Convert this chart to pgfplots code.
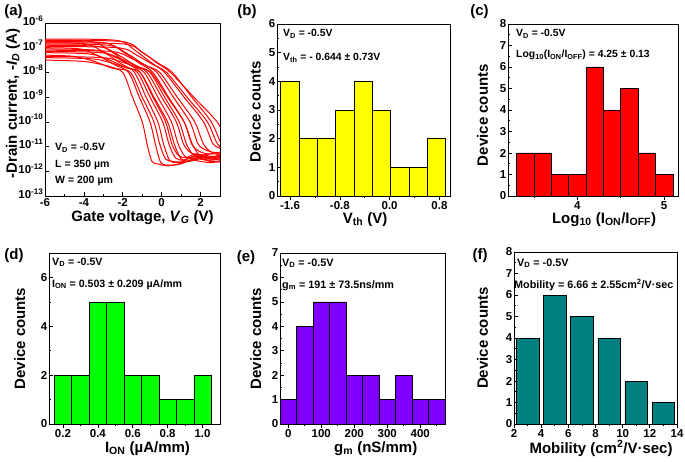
\documentclass[border=0pt]{standalone}
\usepackage{pgfplots}
\pgfplotsset{compat=1.18}
\usepackage{fontspec}
\setmainfont{Liberation Sans}
\definecolor{hyel}{HTML}{FFFF00}
\definecolor{hred}{HTML}{FF0000}
\definecolor{hgrn}{HTML}{00FF00}
\definecolor{hpur}{HTML}{7F00FF}
\definecolor{htea}{HTML}{008080}
\newcommand{\fs}[1]{\fontsize{#1}{#1}\selectfont\bfseries}
\pgfplotsset{
 base/.style={
  scale only axis, anchor=south west,
  axis line style={line width=0.8pt},
  tick align=inside, tick pos=left,
  major tick length=4pt, minor tick length=2.2pt,
  every tick/.append style={line width=0.7pt, black},
  tick label style={font=\fs{11.5}, inner sep=1.5pt},
  /pgf/number format/assume math mode=true,
  label style={font=\fs{15}, inner sep=0pt},
  xlabel style={anchor=north},
  ylabel style={anchor=base},
 },
 hist/.style={base, ymin=0, ylabel={Device counts}, ybar, bar width=#1,
   every axis plot/.append style={draw=black, line width=0.6pt}},
 tr/.style={color=red, mark=none, line width=1.0pt, smooth, tension=0.5},
}
\begin{document}
\begin{tikzpicture}
\useasboundingbox (0pt,0pt) rectangle (685pt,461pt);
% ---------------- (a)
\begin{axis}[base, at={(45pt,265pt)}, width=175pt, height=173pt,
  xmin=-6, xmax=3, ymin=-13, ymax=-6,
  xtick={-6,-4,-2,0,2}, minor xtick={-5,-3,-1,1,3},
  ytick={-13,-12,-11,-10,-9,-8,-7,-6},
  yticklabels={10\textsuperscript{-13},10\textsuperscript{-12},10\textsuperscript{-11},10\textsuperscript{-10},10\textsuperscript{-9},10\textsuperscript{-8},10\textsuperscript{-7},10\textsuperscript{-6}},
  xticklabel style={inner sep=2.5pt},
  yticklabel style={yshift=2.5pt},
  xlabel={Gate voltage, \textit{V}\textsubscript{\textit{G}} (V)},
  ylabel={-Drain current, -\textit{I}\textsubscript{\textit{D}} (A)},
  xlabel style={at={(axis description cs:0.557,-0.084)}},
  ylabel style={at={(axis description cs:-0.16,0.535)}},
]
\addplot[tr] coordinates {(-6,-7.30) (-4.5,-7.35) (-3.5,-7.545) (-2.7,-7.79) (-2.0,-8.0) (-1.5,-9.0) (-1.0,-10.0) (-0.75,-10.9) (-0.5,-11.6) (-0.2,-11.7) (0.3,-11.78) (0.9,-11.7) (1.5,-11.55) (2.0,-11.6) (2.5,-11.65) (3.0,-11.6)};
\addplot[tr] coordinates {(-6,-7.0) (-4.2,-7.05) (-3.2,-7.35) (-2.4,-7.70) (-1.7,-8.0) (-1.15,-9.0) (-0.6,-10.0) (-0.325,-10.9) (-0.05,-11.65) (0.28,-11.75) (0.9,-11.72) (1.5,-11.55) (2.0,-11.5) (2.5,-11.6) (3.0,-11.62)};
\addplot[tr] coordinates {(-6,-7.5) (-4.1,-7.55) (-3.1,-7.675) (-2.3,-7.85) (-1.6,-8.0) (-1.0,-9.0) (-0.4,-10.0) (-0.1,-10.9) (0.2,-11.5) (0.56,-11.6) (1.0,-11.62) (1.5,-11.45) (2.0,-11.4) (2.5,-11.5) (3.0,-11.55)};
\addplot[tr] coordinates {(-6,-6.8) (-3.9,-6.85) (-2.9,-7.22) (-2.1,-7.64) (-1.4,-8.0) (-0.8,-9.0) (-0.2,-10.0) (0.1,-10.9) (0.4,-11.55) (0.76,-11.65) (1.3,-11.6) (1.8,-11.45) (2.4,-11.55) (3.0,-11.5)};
\addplot[tr] coordinates {(-6,-7.2) (-3.75,-7.25) (-2.75,-7.48) (-1.95,-7.76) (-1.25,-8.0) (-0.6,-9.0) (0.05,-10.0) (0.375,-10.9) (0.7,-11.45) (1.09,-11.55) (1.6,-11.4) (2.0,-11.35) (2.5,-11.45) (3.0,-11.4)};
\addplot[tr] coordinates {(-6,-6.7) (-3.6,-6.75) (-2.6,-7.155) (-1.8,-7.61) (-1.1,-8.0) (-0.45,-9.0) (0.2,-10.0) (0.525,-10.9) (0.85,-11.35) (1.24,-11.45) (1.7,-11.3) (2.2,-11.35) (2.6,-11.4) (3.0,-11.35)};
\addplot[tr] coordinates {(-6,-7.4) (-3.6,-7.45) (-2.6,-7.61) (-1.8,-7.82) (-1.1,-8.0) (-0.4,-9.0) (0.3,-10.0) (0.65,-10.9) (1.0,-11.5) (1.42,-11.6) (1.9,-11.5) (2.4,-11.55) (3.0,-11.5)};
\addplot[tr] coordinates {(-6,-7.05) (-3.4,-7.1) (-2.4,-7.38) (-1.6,-7.715) (-0.9,-8.0) (-0.2,-9.0) (0.5,-10.0) (0.85,-10.9) (1.2,-11.4) (1.62,-11.5) (2.1,-11.4) (2.6,-11.45) (3.0,-11.4)};
\addplot[tr] coordinates {(-6,-6.9) (-3.25,-6.95) (-2.25,-7.285) (-1.45,-7.67) (-0.75,-8.0) (0.0,-9.0) (0.75,-10.0) (1.125,-10.9) (1.5,-11.25) (1.95,-11.35) (2.5,-11.3) (3.0,-11.25)};
\addplot[tr] coordinates {(-6,-7.15) (-3.1,-7.2) (-2.1,-7.45) (-1.3,-7.745) (-0.6,-8.0) (0.15,-9.0) (0.9,-10.0) (1.275,-10.9) (1.65,-11.35) (2.1,-11.45) (2.6,-11.4) (3.0,-11.45)};
\addplot[tr] coordinates {(-6,-6.75) (-2.95,-6.8) (-1.95,-7.19) (-1.15,-7.625) (-0.45,-8.0) (0.35,-9.0) (1.15,-10.0) (1.55,-10.9) (1.95,-11.2) (2.43,-11.3) (3.0,-11.25)};
\addplot[tr] coordinates {(-6,-7.35) (-3.05,-7.4) (-2.05,-7.58) (-1.25,-7.805) (-0.55,-8.0) (0.3,-9.0) (1.15,-10.0) (1.575,-10.9) (2.0,-11.4) (2.51,-11.5) (3.0,-11.45)};
\addplot[tr] coordinates {(-6,-6.85) (-2.75,-6.9) (-1.75,-7.25) (-0.95,-7.655) (-0.25,-8.0) (0.6,-9.0) (1.45,-10.0) (1.875,-10.9) (2.3,-11.15) (2.81,-11.25) (3.0,-11.22)};
\addplot[tr] coordinates {(-6,-7.1) (-2.6,-7.15) (-1.6,-7.415) (-0.8,-7.73) (-0.1,-8.0) (0.8,-9.0) (1.7,-10.0) (2.15,-10.9) (2.6,-11.25) (3.14,-11.35)};
\addplot[tr] coordinates {(-6,-6.65) (-2.35,-6.7) (-1.35,-7.1225) (-0.55,-7.595) (0.15,-8.0) (1.15,-9.0) (2.15,-10.0) (2.65,-10.9) (3.15,-11.1)};
\addplot[tr] coordinates {(-6,-6.95) (-2.25,-7.0) (-1.25,-7.3175) (-0.45,-7.685) (0.25,-8.0) (1.3,-9.0) (2.35,-10.0) (2.875,-10.9) (3.4,-11.2)};
\addplot[tr] coordinates {(-6,-6.7) (-2.05,-6.75) (-1.05,-7.155) (-0.25,-7.61) (0.45,-8.0) (1.65,-9.0) (2.85,-10.0) (3.45,-10.9)};
\addplot[tr] coordinates {(-6,-6.8) (-1.95,-6.85) (-0.95,-7.22) (-0.15,-7.64) (0.55,-8.0) (1.55,-9.0) (2.55,-10.0) (3.05,-10.9)};
\end{axis}
% ---------------- (b)
\begin{axis}[hist=0.2944, at={(277pt,265pt)}, width=173pt, height=172pt,
  xmin=-1.81, xmax=0.97, ymax=6,
  xtick={-1.6,-0.8,0,0.8}, minor xtick={-1.2,-0.4,0.4},
  xticklabel style={/pgf/number format/.cd, fixed, fixed zerofill, precision=1},
  ytick={0,1,2,3,4,5,6}, minor ytick={0.5,1.5,2.5,3.5,4.5,5.5},
  xlabel={V\textsubscript{th} (V)},
  xlabel style={at={(axis description cs:0.509,-0.093)}},
  ylabel style={at={(axis description cs:-0.095,0.49)}},
]
\addplot[fill=hyel] coordinates {(-1.603,4) (-1.308,2) (-1.014,2) (-0.719,3) (-0.425,4) (-0.130,3) (0.164,1) (0.458,1) (0.753,2)};
\end{axis}
% ---------------- (c)
\begin{axis}[hist=0.2, at={(508pt,265pt)}, width=170pt, height=172pt,
  xmin=3.2, xmax=5.16, ymax=8,
  xtick={4,5}, minor xtick={3.5,4.5},
  ytick={0,1,2,3,4,5,6,7,8}, minor ytick={0.5,1.5,2.5,3.5,4.5,5.5,6.5,7.5},
  xlabel={Log\textsubscript{10} (I\textsubscript{ON}/I\textsubscript{OFF})},
  xlabel style={at={(axis description cs:0.565,-0.093)}},
  ylabel style={at={(axis description cs:-0.118,0.47)}},
]
\addplot[fill=hred] coordinates {(3.4,2) (3.6,2) (3.8,1) (4.0,1) (4.2,6) (4.4,4) (4.6,5) (4.8,2) (5.0,1)};
\end{axis}
% ---------------- (d)
\begin{axis}[hist=0.1, at={(49pt,37pt)}, width=171pt, height=171pt,
  xmin=0.12, xmax=1.1, ymax=7,
  xtick={0.2,0.4,0.6,0.8,1.0}, minor xtick={0.3,0.5,0.7,0.9},
  xticklabel style={/pgf/number format/.cd, fixed, fixed zerofill, precision=1},
  ytick={0,2,4,6}, minor ytick={1,3,5},
  xlabel={I\textsubscript{ON} (µA/mm)},
  xlabel style={at={(axis description cs:0.576,-0.1)}},
  ylabel style={at={(axis description cs:-0.14,0.5)}},
]
\addplot[fill=hgrn] coordinates {(0.2,2) (0.3,2) (0.4,5) (0.5,5) (0.6,2) (0.7,2) (0.8,1) (0.9,1) (1.0,2)};
\end{axis}
% ---------------- (e)
\begin{axis}[hist=50, at={(280pt,37pt)}, width=165pt, height=171pt,
  xmin=-25, xmax=475, ymax=7,
  xtick={0,100,200,300,400}, minor xtick={50,150,250,350,450},
  ytick={0,1,2,3,4,5,6,7}, minor ytick={0.5,1.5,2.5,3.5,4.5,5.5,6.5},
  xlabel={g\textsubscript{m} (nS/mm)},
  xlabel style={at={(axis description cs:0.58,-0.1)}},
  ylabel style={at={(axis description cs:-0.115,0.5)}},
]
\addplot[fill=hpur] coordinates {(0,1) (50,4) (100,5) (150,5) (200,2) (250,2) (300,1) (350,2) (400,1) (450,1)};
\end{axis}
% ---------------- (f)
\begin{axis}[hist=1.66, at={(514pt,37pt)}, width=163pt, height=172pt,
  xmin=2, xmax=14, ymax=8,
  xtick={2,4,6,8,10,12,14}, minor xtick={3,5,7,9,11,13},
  ytick={0,1,2,3,4,5,6,7,8}, minor ytick={0.5,1.5,2.5,3.5,4.5,5.5,6.5,7.5},
  xlabel={Mobility (cm\textsuperscript{2}/V·sec)},
  xlabel style={at={(axis description cs:0.534,-0.095)}},
  ylabel style={at={(axis description cs:-0.16,0.5)}},
]
\addplot[fill=htea] coordinates {(3,4) (5,6) (7,5) (9,4) (11,2) (13,1)};
\end{axis}
% ---------------- annotations
\begin{scope}[every node/.style={inner sep=0pt}]
\node[font=\fs{15}] at (13.5pt,449.5pt) {(a)};
\node[font=\fs{15}] at (247pt,449.5pt) {(b)};
\node[font=\fs{15}] at (479.5pt,449.5pt) {(c)};
\node[font=\fs{15}] at (14pt,205pt) {(d)};
\node[font=\fs{15}] at (246pt,203pt) {(e)};
\node[font=\fs{15}] at (480pt,205pt) {(f)};
\node[anchor=base west, font=\fs{10.5}] at (55pt,310pt) {V\textsubscript{D} = -0.5V};
\node[anchor=base west, font=\fs{10.5}] at (55pt,293pt) {L\ = 350 µm};
\node[anchor=base west, font=\fs{10.5}] at (55pt,277pt) {W = 200 µm};
\node[anchor=base west, font=\fs{10.4}] at (283pt,424pt) {V\textsubscript{D} = -0.5V};
\node[anchor=base west, font=\fs{10.4}] at (283pt,400pt) {V\textsubscript{th} = - 0.644 ± 0.73V};
\node[anchor=base west, font=\fs{10.4}] at (516pt,424pt) {V\textsubscript{D} = -0.5V};
\node[anchor=base west, font=\fs{10.4}] at (516pt,403pt) {Log\textsubscript{10}(I\textsubscript{ON}/I\textsubscript{OFF}) = 4.25 ± 0.13};
\node[anchor=base west, font=\fs{10.6}] at (52pt,196pt) {V\textsubscript{D} = -0.5V};
\node[anchor=base west, font=\fs{10.6}] at (52pt,174pt) {I\textsubscript{ON} = 0.503 ± 0.209 µA/mm};
\node[anchor=base west, font=\fs{10.8}] at (282pt,195pt) {V\textsubscript{D} = -0.5V};
\node[anchor=base west, font=\fs{10.8}] at (282pt,173pt) {g\textsubscript{m} = 191 ± 73.5ns/mm};
\node[anchor=base west, font=\fs{10.8}] at (517pt,195pt) {V\textsubscript{D} = -0.5V};
\node[anchor=base west, font=\fs{10.8}] at (514pt,173pt) {Mobility = 6.66 ± 2.55cm\textsuperscript{2}/V·sec};
\end{scope}
\end{tikzpicture}
\end{document}
